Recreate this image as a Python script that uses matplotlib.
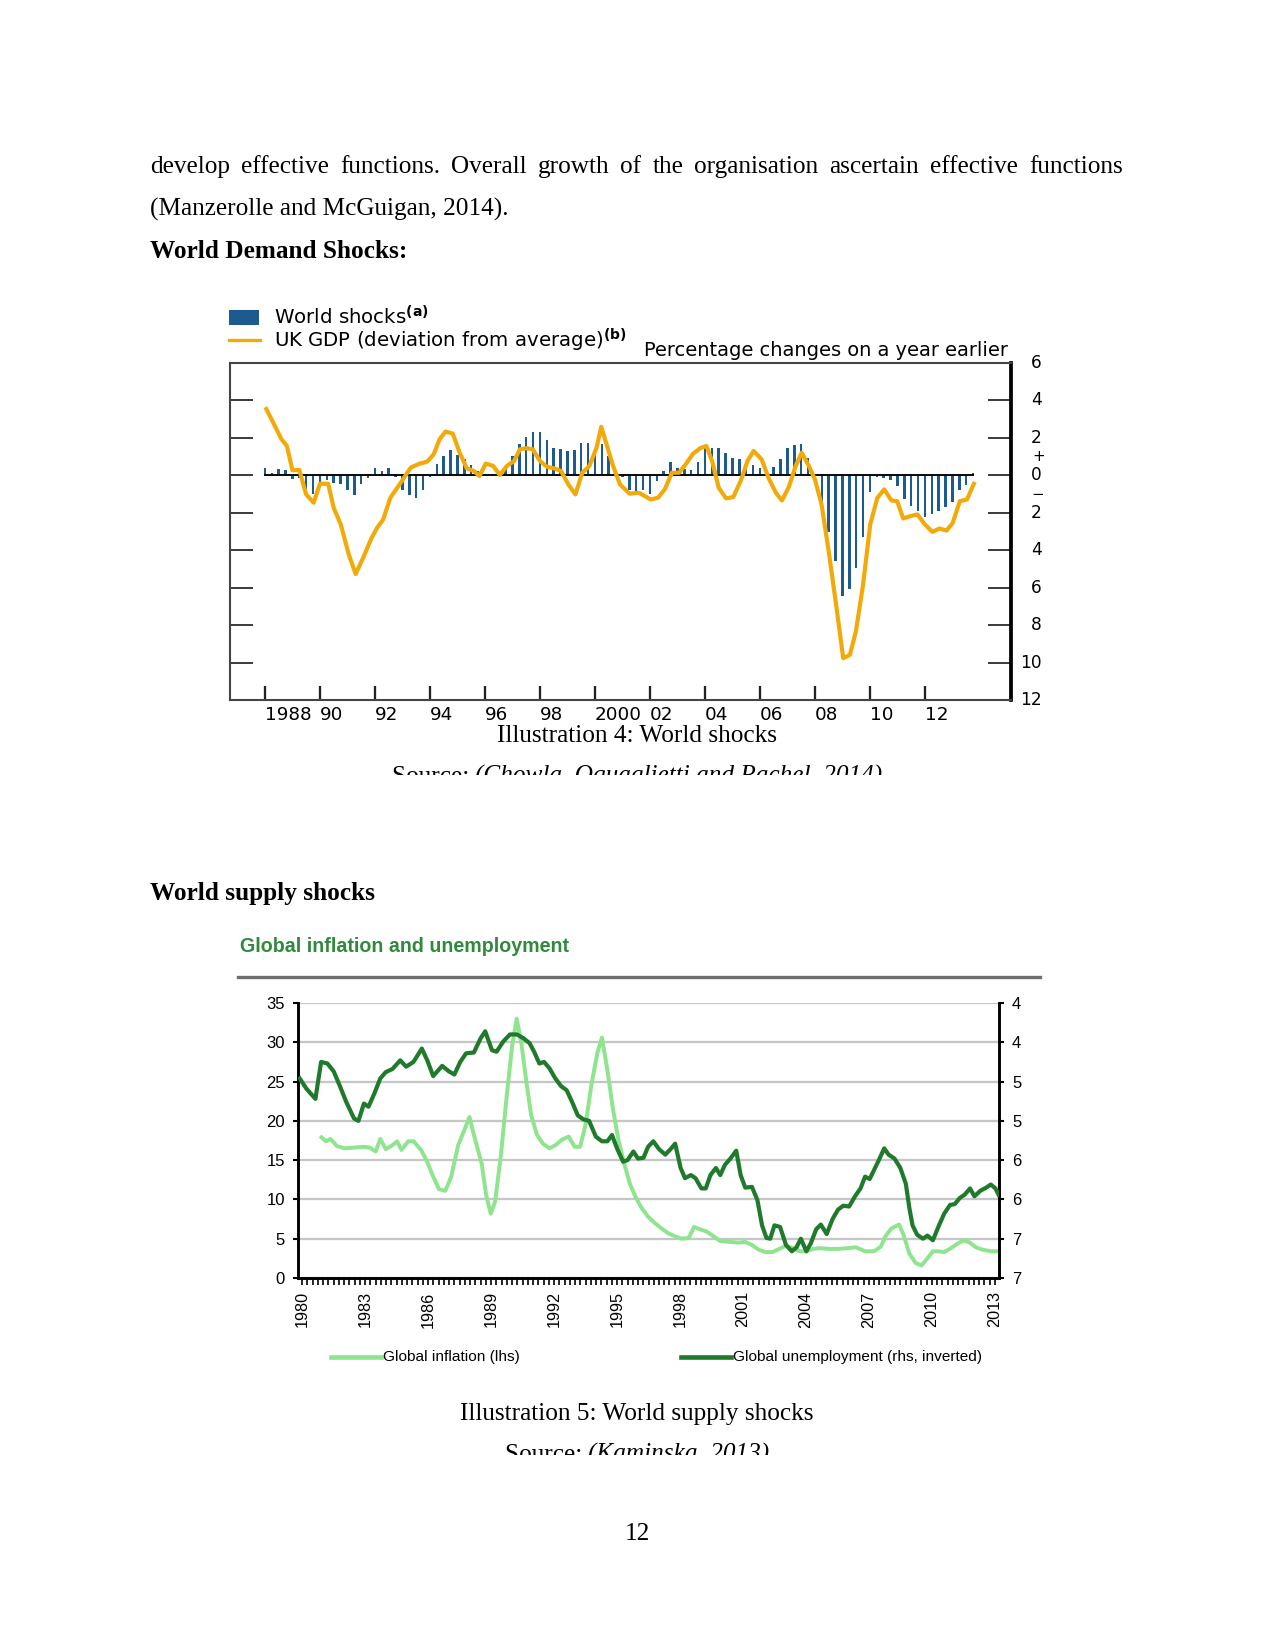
import numpy as np
import matplotlib
matplotlib.use("Agg")
import matplotlib.pyplot as plt
from matplotlib.lines import Line2D
from matplotlib.patches import Rectangle
from matplotlib.transforms import blended_transform_factory

# ---------------- data: chart 1 (World shocks) ----------------
shock_start = 1988.0
shock_step = 0.25
world_shocks = [0.40, 0.15, 0.35, 0.30, -0.20, -0.15, -1.05, -1.00, -0.35, -0.25,
                -0.40, -0.45, -0.80, -1.05, -0.45, -0.15, 0.38, 0.25, 0.40, -0.10,
                -0.80, -1.05, -1.20, -0.80, -0.10, 0.60, 1.05, 1.35, 1.10, 0.85,
                0.55, 0.23, 0.06, 0.02, 0.14, 0.50, 1.04, 1.70, 2.05, 2.32,
                2.32, 1.89, 1.45, 1.43, 1.30, 1.34, 1.71, 1.71, 1.39, 1.70,
                1.04, 0.27, -0.09, -0.79, -0.84, -0.80, -1.02, -0.30, 0.23, 0.73,
                0.38, 0.32, 0.29, 0.73, 1.45, 1.48, 1.48, 1.21, 0.91, 0.86,
                0.55, 0.55, 0.41, 0.27, 0.45, 0.86, 1.45, 1.63, 1.70, 0.91,
                0.02, -1.50, -3.00, -4.57, -6.44, -6.08, -4.95, -3.32, -0.91, -0.10,
                -0.15, -0.27, -0.55, -1.26, -1.65, -1.93, -2.21, -2.07, -1.89, -1.70,
                -1.45, -0.76, -0.51, 0.14]

gdp_years = [1988.05, 1988.3, 1988.6, 1988.8, 1989.0, 1989.25, 1989.5, 1989.77, 1990.0, 1990.3,
             1990.5, 1990.76, 1991.05, 1991.3, 1991.57, 1991.88, 1992.08, 1992.3, 1992.56, 1992.94,
             1993.3, 1993.63, 1993.9, 1994.14, 1994.35, 1994.57, 1994.83, 1995.08, 1995.34, 1995.6,
             1995.8, 1996.03, 1996.3, 1996.54, 1996.8, 1997.06, 1997.27, 1997.52, 1997.74, 1998.0,
             1998.26, 1998.5, 1998.77, 1999.03, 1999.29, 1999.54, 1999.8, 2000.06, 2000.23, 2000.44,
             2000.66, 2000.91, 2001.26, 2001.6, 2002.03, 2002.29, 2002.54, 2002.8, 2003.06, 2003.3,
             2003.57, 2003.83, 2004.05, 2004.26, 2004.5, 2004.77, 2005.03, 2005.3, 2005.55, 2005.77,
             2006.06, 2006.32, 2006.58, 2006.8, 2007.04, 2007.3, 2007.52, 2007.78, 2008.0, 2008.24,
             2008.5, 2008.77, 2009.03, 2009.27, 2009.49, 2009.75, 2010.01, 2010.27, 2010.52, 2010.78,
             2010.99, 2011.21, 2011.47, 2011.73, 2011.98, 2012.27, 2012.53, 2012.79, 2013.01, 2013.27,
             2013.53, 2013.78]
gdp_values = [3.54, 2.82, 1.93, 1.57, 0.27, 0.29, -1.02, -1.46, -0.45, -0.45,
              -1.73, -2.63, -4.23, -5.27, -4.41, -3.34, -2.80, -2.36, -1.20, -0.39,
              0.41, 0.63, 0.73, 1.13, 1.93, 2.34, 2.23, 1.21, 0.38, 0.23,
              -0.04, 0.63, 0.50, 0.02, 0.50, 0.77, 1.39, 1.45, 1.39, 0.77,
              0.45, 0.38, 0.23, -0.48, -1.02, 0.14, 0.50, 1.48, 2.59, 1.57,
              0.50, -0.48, -0.98, -0.93, -1.29, -1.20, -0.75, 0.14, 0.14, 0.59,
              1.16, 1.45, 1.57, 0.77, -0.66, -1.23, -1.16, -0.30, 0.77, 1.30,
              0.86, -0.16, -0.93, -1.34, -0.66, 0.50, 1.21, 0.50, -0.21, -1.55,
              -4.05, -6.91, -9.77, -9.59, -8.34, -5.84, -2.63, -1.20, -0.75, -1.34,
              -1.38, -2.30, -2.18, -2.09, -2.59, -3.02, -2.84, -2.95, -2.54, -1.38,
              -1.29, -0.45]

c1_xticks = [1988, 1990, 1992, 1994, 1996, 1998, 2000, 2002, 2004, 2006, 2008, 2010, 2012]
c1_xlabels = ["1988", "90", "92", "94", "96", "98", "2000", "02", "04", "06", "08", "10", "12"]
c1_ylabels_vals = [6, 4, 2, 0, -2, -4, -6, -8, -10, -12]

# ---------------- data: chart 2 (Global inflation and unemployment) ----------------
infl_years = [1980.92, 1981.13, 1981.35, 1981.65, 1982.04, 1982.47, 1982.9, 1983.22, 1983.5, 1983.72,
              1983.98, 1984.3, 1984.52, 1984.73, 1985.05, 1985.31, 1985.66, 1985.92, 1986.24, 1986.52,
              1986.82, 1987.1, 1987.43, 1987.75, 1987.97, 1988.18, 1988.55, 1988.76, 1988.98, 1989.19,
              1989.47, 1989.75, 1990.01, 1990.22, 1990.44, 1990.7, 1990.91, 1991.19, 1991.47, 1991.78,
              1992.06, 1992.38, 1992.7, 1992.98, 1993.24, 1993.5, 1993.78, 1994.06, 1994.28, 1994.54,
              1994.8, 1995.08, 1995.36, 1995.61, 1995.87, 1996.15, 1996.48, 1996.8, 1997.12, 1997.44,
              1997.77, 1998.09, 1998.42, 1998.67, 1998.95, 1999.28, 1999.6, 1999.92, 2000.35, 2000.78,
              2001.11, 2001.43, 2001.75, 2002.08, 2002.4, 2002.73, 2003.05, 2003.38, 2003.7, 2004.02,
              2004.34, 2004.67, 2005.1, 2005.53, 2005.96, 2006.39, 2006.82, 2007.25, 2007.57, 2007.79,
              2008.07, 2008.44, 2008.65, 2008.93, 2009.23, 2009.51, 2009.79, 2010.05, 2010.31, 2010.59,
              2010.91, 2011.24, 2011.52, 2011.82, 2012.1, 2012.42, 2012.85, 2013.18]
inflation = [17.9, 17.4, 17.7, 16.8, 16.5, 16.6, 16.7, 16.6, 16.1, 17.7,
             16.4, 16.9, 17.4, 16.3, 17.4, 17.4, 16.3, 15.0, 12.9, 11.3,
             11.1, 12.9, 16.9, 19.0, 20.5, 18.2, 14.6, 10.6, 8.2, 9.7,
             15.7, 23.3, 29.7, 33.0, 29.9, 24.6, 20.7, 18.2, 17.1, 16.5,
             16.9, 17.6, 18.0, 16.7, 16.7, 19.5, 24.6, 28.6, 30.6, 26.5,
             21.6, 17.4, 14.4, 12.0, 10.4, 9.0, 7.8, 7.0, 6.3, 5.7,
             5.3, 5.0, 5.1, 6.5, 6.2, 5.9, 5.3, 4.7, 4.6, 4.5,
             4.6, 4.2, 3.6, 3.3, 3.3, 3.7, 4.1, 3.8, 3.4, 3.4,
             3.7, 3.8, 3.7, 3.7, 3.8, 3.9, 3.4, 3.4, 4.0, 5.3,
             6.3, 6.8, 5.5, 3.1, 1.9, 1.6, 2.5, 3.4, 3.4, 3.3,
             3.8, 4.4, 4.8, 4.5, 3.9, 3.6, 3.4, 3.4]

unemp_years = [1979.88, 1980.2, 1980.63, 1980.9, 1981.2, 1981.5, 1981.8, 1982.1, 1982.47, 1982.68,
               1982.94, 1983.16, 1983.44, 1983.72, 1983.98, 1984.3, 1984.67, 1984.95, 1985.3, 1985.7,
               1985.96, 1986.24, 1986.67, 1986.99, 1987.25, 1987.53, 1987.81, 1988.18, 1988.5, 1988.72,
               1989.04, 1989.26, 1989.58, 1989.9, 1990.23, 1990.55, 1990.83, 1991.05, 1991.3, 1991.52,
               1991.78, 1992.06, 1992.34, 1992.6, 1992.86, 1993.13, 1993.39, 1993.67, 1993.99, 1994.28,
               1994.54, 1994.76, 1995.0, 1995.29, 1995.5, 1995.78, 1996.0, 1996.26, 1996.48, 1996.73,
               1997.0, 1997.3, 1997.55, 1997.77, 1998.03, 1998.24, 1998.52, 1998.74, 1999.02, 1999.23,
               1999.45, 1999.71, 1999.92, 2000.14, 2000.4, 2000.68, 2000.89, 2001.11, 2001.43, 2001.69,
               2001.91, 2002.12, 2002.3, 2002.5, 2002.77, 2003.05, 2003.33, 2003.55, 2003.76, 2004.02,
               2004.23, 2004.49, 2004.71, 2004.99, 2005.27, 2005.53, 2005.78, 2006.06, 2006.34, 2006.6,
               2006.82, 2007.04, 2007.29, 2007.51, 2007.73, 2007.94, 2008.22, 2008.5, 2008.76, 2008.93,
               2009.08, 2009.3, 2009.58, 2009.79, 2010.05, 2010.31, 2010.59, 2010.87, 2011.09, 2011.34,
               2011.56, 2011.82, 2012.03, 2012.31, 2012.59, 2012.81, 2013.03, 2013.18]
unemployment = [4.76, 4.89, 5.02, 4.55, 4.57, 4.67, 4.86, 5.06, 5.27, 5.30,
                 5.08, 5.12, 4.95, 4.76, 4.68, 4.64, 4.53, 4.61, 4.55, 4.38,
                 4.53, 4.73, 4.60, 4.67, 4.71, 4.55, 4.44, 4.43, 4.25, 4.16,
                 4.40, 4.42, 4.29, 4.20, 4.20, 4.25, 4.31, 4.42, 4.57, 4.55,
                 4.63, 4.76, 4.86, 4.91, 5.06, 5.23, 5.28, 5.30, 5.50, 5.56,
                 5.56, 5.48, 5.65, 5.82, 5.80, 5.69, 5.78, 5.77, 5.63, 5.56,
                 5.66, 5.73, 5.66, 5.59, 5.90, 6.03, 5.99, 6.03, 6.16, 6.16,
                 5.99, 5.90, 5.99, 5.86, 5.78, 5.68, 5.99, 6.15, 6.14, 6.31,
                 6.63, 6.79, 6.80, 6.63, 6.65, 6.88, 6.96, 6.91, 6.80, 6.96,
                 6.86, 6.68, 6.62, 6.74, 6.55, 6.43, 6.38, 6.39, 6.26, 6.16,
                 6.01, 6.04, 5.90, 5.78, 5.65, 5.73, 5.78, 5.90, 6.10, 6.41,
                 6.63, 6.75, 6.80, 6.76, 6.82, 6.65, 6.48, 6.37, 6.36, 6.28,
                 6.24, 6.16, 6.26, 6.19, 6.15, 6.11, 6.16, 6.24]

c2_lhs_ticks = [0, 5, 10, 15, 20, 25, 30, 35]
c2_rhs_ticks = [3.8, 4.3, 4.8, 5.3, 5.8, 6.3, 6.8, 7.3]
c2_rhs_labels = ["4", "4", "5", "5", "6", "6", "7", "7"]
c2_year_ticks = [1980, 1983, 1986, 1989, 1992, 1995, 1998, 2001, 2004, 2007, 2010, 2013]

# ---------------- layout helpers ----------------
W, H = 1275, 1650
def fx(x): return x / W
def fy(y): return 1 - y / H

SERIF = ["Liberation Serif", "DejaVu Serif"]
SANS2 = ["Liberation Sans", "DejaVu Sans"]
BODY = 12.1
BLUE = "#1d5a90"
ORANGE = "#f2aa0a"
LIGHT = "#8fe48f"
DARK = "#1f7a2c"

fig = plt.figure(figsize=(8.5, 11), dpi=150)
fig.patch.set_facecolor("white")
renderer = fig.canvas.get_renderer()

def text_width(t):
    return t.get_window_extent(renderer).width

def justified(y, line, x0, x1, **kw):
    words = line.split()
    ts = [fig.text(0, fy(y), w, va="baseline", **kw) for w in words]
    ws = [text_width(t) for t in ts]
    gap = (x1 - x0 - sum(ws)) / (len(ws) - 1)
    x = x0
    for t, w in zip(ts, ws):
        t.set_x(fx(x))
        x += w + gap

def centered_segments(y, xc, segs, **kw):
    ts = [fig.text(0, fy(y), s, va="baseline", **kw, **extra) for s, extra in segs]
    ws = [text_width(t) for t in ts]
    x = xc - sum(ws) / 2
    for t, w in zip(ts, ws):
        t.set_x(fx(x))
        x += w

# ---------------- page text ----------------
justified(173, "develop effective functions. Overall growth of the organisation ascertain effective functions",
          150, 1123, family=SERIF, fontsize=BODY)
fig.text(fx(150), fy(216), "(Manzerolle and McGuigan, 2014).", family=SERIF, fontsize=BODY, va="baseline")
fig.text(fx(150), fy(258), "World Demand Shocks:", family=SERIF, fontsize=BODY, weight="bold", va="baseline")
fig.text(fx(637), fy(742), "Illustration 4: World shocks", family=SERIF, fontsize=BODY, ha="center", va="baseline")
centered_segments(783, 637, [("Source: ", {}), ("(Chowla, Oquaglietti and Rachel, 2014)", {"style": "italic"})],
                  family=SERIF, fontsize=BODY)
fig.text(fx(150), fy(900), "World supply shocks", family=SERIF, fontsize=BODY, weight="bold", va="baseline")
fig.text(fx(637), fy(1420), "Illustration 5: World supply shocks", family=SERIF, fontsize=BODY, ha="center", va="baseline")
centered_segments(1461, 637, [("Source: ", {}), ("(Kaminska, 2013)", {"style": "italic"})],
                  family=SERIF, fontsize=BODY)
fig.text(fx(637), fy(1540), "12", family=SERIF, fontsize=BODY, ha="center", va="baseline")

# white bands that cut the source lines
fig.add_artist(Rectangle((fx(300), fy(800)), (1000 - 300) / W, 25 / H, transform=fig.transFigure,
                         facecolor="white", edgecolor="none", zorder=20))
fig.add_artist(Rectangle((fx(300), fy(1480)), (1000 - 300) / W, 25 / H, transform=fig.transFigure,
                         facecolor="white", edgecolor="none", zorder=20))

# ---------------- chart 1 ----------------
ax1 = fig.add_axes([fx(230), fy(700), (1011 - 230) / W, (700 - 363) / H])
qx = [shock_start + i * shock_step for i in range(len(world_shocks))]
ax1.bar(qx, world_shocks, width=0.09, color=BLUE, zorder=2)
ax1.hlines(0, qx[0] - 0.05, qx[-1] + 0.05, color="black", lw=0.9, zorder=3)
ax1.plot(gdp_years, gdp_values, color=ORANGE, lw=2.0, zorder=4, solid_joinstyle="round")
ax1.set_xlim(1986.73, 2015.13)
ax1.set_ylim(-12, 6)
ax1.set_xticks(c1_xticks)
ax1.set_xticklabels(c1_xlabels, family="DejaVu Sans", fontsize=8.8)
for lab in ax1.get_xticklabels():
    lab.set_ha("left")
ax1.tick_params(axis="x", direction="in", length=6.5, width=1.1, color="#222", pad=3)
ax1.set_yticks([-10, -8, -6, -4, -2, 0, 2, 4])
ax1.tick_params(axis="y", direction="in", length=11, width=0.9, color="#333",
                left=True, right=True, labelleft=False, labelright=False)
for side in ["left", "top", "bottom"]:
    ax1.spines[side].set_color("#444")
    ax1.spines[side].set_linewidth(1.0)
ax1.spines["right"].set_color("black")
ax1.spines["right"].set_linewidth(1.8)
tr = blended_transform_factory(ax1.transAxes, ax1.transData)
xr = (1042 - 230) / (1011 - 230)
for v in c1_ylabels_vals:
    ax1.text(xr, v, str(abs(v)), transform=tr, ha="right", va="center", fontsize=8.2,
             family="DejaVu Sans", clip_on=False)
ax1.text(xr + 0.004, 1.0, "+", transform=tr, ha="right", va="center", fontsize=7.2,
         family="DejaVu Sans", clip_on=False)
ax1.text(xr + 0.003, -1.0, "\u2212", transform=tr, ha="right", va="center", fontsize=7.2,
         family="DejaVu Sans", clip_on=False)

# legend + unit text for chart 1
fig.add_artist(Rectangle((fx(229), fy(325)), 30 / W, 15 / H, transform=fig.transFigure,
                         facecolor=BLUE, edgecolor="none"))
fig.add_artist(Line2D([fx(229), fx(260)], [fy(340), fy(340)], transform=fig.transFigure,
                      color=ORANGE, lw=1.6))
fig.text(fx(274), fy(317), r"World shocks$^{\mathbf{(a)}}$", family="DejaVu Sans", fontsize=9.5, va="center")
fig.text(fx(274), fy(340), r"UK GDP (deviation from average)$^{\mathbf{(b)}}$", family="DejaVu Sans",
         fontsize=9.5, va="center")
fig.text(fx(1008), fy(351), "Percentage changes on a year earlier", family="DejaVu Sans",
         fontsize=9.3, ha="right", va="center")

# ---------------- chart 2 ----------------
fig.text(fx(240), fy(947), "Global inflation and unemployment", family=SANS2, fontsize=9.4,
         weight="bold", color="#2f8a3c", va="center")
fig.add_artist(Line2D([fx(238), fx(1040)], [fy(977), fy(977)], transform=fig.transFigure,
                      color="#6e6e6e", lw=1.6))

ax2 = fig.add_axes([fx(298), fy(1278), 701 / W, 275 / H])
ax2.set_xlim(1979.8, 2013.2)
ax2.set_ylim(0, 35)
ax2.set_yticks(c2_lhs_ticks)
ax2.set_yticklabels([str(v) for v in c2_lhs_ticks], family=SANS2, fontsize=8)
ax2.grid(axis="y", color="#c6c6c6", lw=1.1)
ax2.set_axisbelow(True)
ax2.plot(infl_years, inflation, color=LIGHT, lw=1.9, zorder=3, solid_joinstyle="round")
ax2.set_xticks(c2_year_ticks)
ax2.set_xticklabels([str(y) for y in c2_year_ticks], rotation=90, family=SANS2, fontsize=7.8)
ax2.set_xticks(np.arange(1980, 2013.2, 0.25), minor=True)
ax2.tick_params(axis="x", which="both", direction="out", length=3.4, width=0.8, color="black", pad=3)
ax2.tick_params(axis="y", direction="out", length=2.2, width=1.0, color="black", pad=4)
ax2.spines["top"].set_visible(False)
ax2.spines["right"].set_visible(False)
for side in ["left", "bottom"]:
    ax2.spines[side].set_color("black")
    ax2.spines[side].set_linewidth(1.4)

ax2r = ax2.twinx()
ax2r.set_ylim(7.3, 3.8)
ax2r.plot(unemp_years, unemployment, color=DARK, lw=2.0, zorder=4, solid_joinstyle="round")
ax2r.set_yticks(c2_rhs_ticks)
ax2r.set_yticklabels(c2_rhs_labels, family=SANS2, fontsize=8)
ax2r.tick_params(axis="y", direction="out", length=2.2, width=1.0, color="black", pad=4)
for side in ["top", "left", "bottom"]:
    ax2r.spines[side].set_visible(False)
ax2r.spines["right"].set_color("black")
ax2r.spines["right"].set_linewidth(1.4)

# legend for chart 2
fig.add_artist(Line2D([fx(331), fx(381)], [fy(1357), fy(1357)], transform=fig.transFigure,
                      color=LIGHT, lw=2.2))
fig.text(fx(383), fy(1357), "Global inflation (lhs)", family=SANS2, fontsize=7.4, va="center")
fig.add_artist(Line2D([fx(681), fx(731)], [fy(1357), fy(1357)], transform=fig.transFigure,
                      color=DARK, lw=2.2))
fig.text(fx(733), fy(1357), "Global unemployment (rhs, inverted)", family=SANS2, fontsize=7.4, va="center")

fig.savefig("out.png", dpi=150, facecolor="white")
